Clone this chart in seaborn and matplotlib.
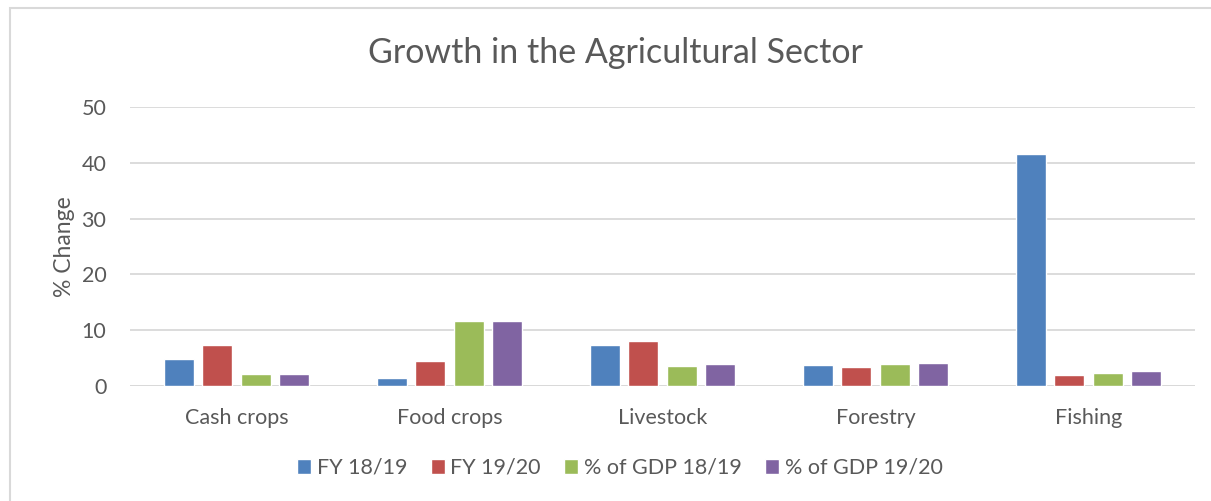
import pandas as pd
import numpy as np
import matplotlib.pyplot as plt
import seaborn as sns
from matplotlib.patches import Rectangle

# values
sectors = ["Cash crops", "Food crops", "Livestock", "Forestry", "Fishing"]
series = ["FY 18/19", "FY 19/20", "% of GDP 18/19", "% of GDP 19/20"]
fy_1819 = [4.8, 1.5, 7.4, 3.7, 41.5]
fy_1920 = [7.3, 4.5, 8.0, 3.4, 2.0]
gdp_1819 = [2.1, 11.7, 3.5, 3.9, 2.4]
gdp_1920 = [2.1, 11.7, 3.9, 4.2, 2.7]
colors = ["#4F81BD", "#C0504D", "#9BBB59", "#8064A2"]

rows = []
for s, vals in zip(series, [fy_1819, fy_1920, gdp_1819, gdp_1920]):
    for sec, v in zip(sectors, vals):
        rows.append([sec, s, v])
df = pd.DataFrame(rows, columns=["sector", "series", "value"])

sns.set_style("white")
plt.rcParams["font.family"] = ["Lato", "DejaVu Sans"]
txt = "#595959"

fig = plt.figure(figsize=(12.11, 5.01), dpi=100)
ax = fig.add_axes([130/1211, 1-386/501, 1065/1211, 279/501])

sns.barplot(data=df, x="sector", y="value", hue="series", palette=colors,
            width=0.72, gap=0.22, ax=ax, saturation=1, legend=True)

ax.set_ylim(0, 50)
ax.set_yticks(range(0, 51, 10))
ax.set_xlim(-0.5, 4.5)
ax.yaxis.grid(True, color="#D9D9D9", linewidth=1.3)
ax.set_axisbelow(True)
for sp in ax.spines.values():
    sp.set_visible(False)
ax.axhline(0, color="#D9D9D9", linewidth=2, zorder=0.5)
ax.tick_params(axis="both", length=0, labelsize=15.5, colors=txt)
ax.tick_params(axis="y", pad=17)
ax.tick_params(axis="x", pad=16)
ax.set_xlabel("")
ax.set_ylabel("% Change", fontsize=16.5, color=txt, labelpad=5)

fig.text(615/1211, 1-53/501, "Growth in the Agricultural Sector", fontsize=24.5,
         color=txt, ha="center", va="center")

handles, labels = ax.get_legend_handles_labels()
ax.legend(handles, labels, loc="center", bbox_to_anchor=(620/1211, 1-468/501),
          bbox_transform=fig.transFigure, ncol=4, frameon=False, fontsize=15.5,
          labelcolor=txt, handlelength=0.65, handleheight=0.65, handletextpad=0.25,
          columnspacing=1.1)

# chart frame
fig.patches.append(Rectangle((10/1211, -0.1), 1.2, (501-8)/501 + 0.1,
                             transform=fig.transFigure, fill=False,
                             edgecolor="#D9D9D9", linewidth=1.5))

fig.savefig("out.png", dpi=100)
